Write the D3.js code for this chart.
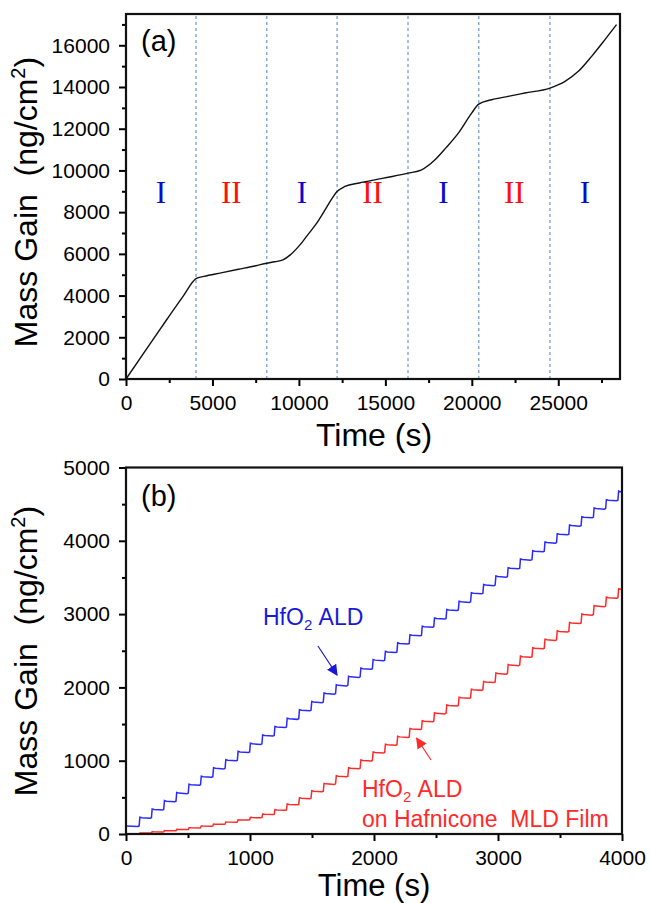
<!DOCTYPE html>
<html><head><meta charset="utf-8">
<script src="https://cdn.jsdelivr.net/npm/d3@7"></script>
<style>
body{margin:0;background:#fff}
svg{display:block}
text{font-family:Arial,"Liberation Sans",sans-serif;fill:#000}
</style>
</head><body>
<svg id="chart" width="650" height="903"></svg>
<script>
// ---------- Panel (a): mass gain during alternating growth sequences ----------
const timeA = [0, 1400, 2400, 3300, 4050, 4500, 5500, 6500, 7500, 8140, 8600, 9080, 9500,
  10060, 10500, 11030, 11510, 11900, 12210, 12660, 13500, 14400, 15400, 16310, 17100,
  17870, 18500, 19220, 19990, 20400, 21150, 22100, 23070, 24520, 25390, 26160, 26930,
  27700, 28370];
const massA = [0, 1700, 2900, 3960, 4810, 4920, 5090, 5260, 5430, 5550, 5620, 5710, 5950,
  6430, 6900, 7470, 8110, 8640, 8990, 9230, 9400, 9550, 9710, 9870, 10030,
  10510, 11080, 11790, 12750, 13180, 13390, 13550, 13710, 13950, 14270, 14750, 15470,
  16270, 16990];
const regionBounds = [4050, 8140, 12210, 16310, 20400, 24520];
const regionLabels = ["I", "II", "I", "II", "I", "II", "I"];
const xTicksA = [0, 5000, 10000, 15000, 20000, 25000];
const xMinorA = [2500, 7500, 12500, 17500, 22500, 27500];
const yTicksA = [0, 2000, 4000, 6000, 8000, 10000, 12000, 14000, 16000];
const yMinorA = [1000, 3000, 5000, 7000, 9000, 11000, 13000, 15000, 17000];

// ---------- Panel (b): per-cycle HfO2 ALD mass gain ----------
const cycleStart = [0, 106, 205, 304, 403, 502, 601, 700, 799, 898, 997, 1096, 1195, 1294,
  1393, 1492, 1591, 1690, 1789, 1888, 1987, 2086, 2185, 2284, 2383, 2482, 2581, 2680, 2779,
  2878, 2977, 3076, 3175, 3274, 3373, 3472, 3571, 3670, 3769, 3868, 3967];
const massHfO2 = [110, 222, 334, 448, 558, 672, 782, 896, 1006, 1120, 1230, 1344, 1460, 1572,
  1688, 1800, 1916, 2028, 2144, 2256, 2372, 2484, 2600, 2712, 2828, 2940, 3056, 3168, 3284,
  3396, 3512, 3626, 3744, 3858, 3976, 4090, 4208, 4322, 4440, 4554, 4670];
const massOnMLD = [0, 14, 29, 45, 62, 84, 108, 134, 162, 192, 224, 269, 329, 404, 489, 584,
  684, 789, 897, 1004, 1111, 1218, 1325, 1432, 1539, 1646, 1753, 1860, 1967, 2074, 2189,
  2304, 2419, 2534, 2649, 2764, 2879, 2994, 3109, 3224, 3339];
const xTicksB = [0, 1000, 2000, 3000, 4000];
const xMinorB = [500, 1500, 2500, 3500];
const yTicksB = [0, 1000, 2000, 3000, 4000, 5000];
const yMinorB = [500, 1500, 2500, 3500, 4500];

const svg = d3.select("#chart");
const TICK_FONT = "21px";

function frame(g, x, y, xt, xm, yt, ym) {
  const [x0, x1] = x.range(), [y0, y1] = y.range();
  // minor ticks
  g.append("g").attr("transform", `translate(0,${y0})`)
    .call(d3.axisBottom(x).tickValues(xm).tickSize(4).tickSizeOuter(0).tickFormat(""))
    .call(a => a.select(".domain").remove());
  g.append("g").attr("transform", `translate(${x0},0)`)
    .call(d3.axisLeft(y).tickValues(ym).tickSize(4).tickSizeOuter(0).tickFormat(""))
    .call(a => a.select(".domain").remove());
  // major ticks with labels
  g.append("g").attr("transform", `translate(0,${y0})`)
    .call(d3.axisBottom(x).tickValues(xt).tickSize(7).tickPadding(9).tickSizeOuter(0).tickFormat(d3.format("d")))
    .call(a => a.select(".domain").remove())
    .call(a => a.selectAll("text").style("font-size", TICK_FONT).attr("fill", "#000"));
  g.append("g").attr("transform", `translate(${x0},0)`)
    .call(d3.axisLeft(y).tickValues(yt).tickSize(7).tickPadding(9).tickSizeOuter(0).tickFormat(d3.format("d")))
    .call(a => a.select(".domain").remove())
    .call(a => a.selectAll("text").style("font-size", TICK_FONT).attr("fill", "#000"));
  g.selectAll(".tick line").attr("stroke", "#000").attr("stroke-width", 2);
  g.append("rect").attr("x", x0).attr("y", y1).attr("width", x1 - x0).attr("height", y0 - y1)
    .attr("fill", "none").attr("stroke", "#111").attr("stroke-width", 2.2);
}

function yTitle(cx, cy) {
  const t = svg.append("text")
    .attr("transform", `translate(${cx},${cy}) rotate(-90)`)
    .attr("text-anchor", "middle").style("font-size", "32px");
  t.append("tspan").text("Mass Gain\u00a0\u00a0(ng/cm");
  t.append("tspan").text("2").style("font-size", "20px").attr("dy", "-12");
  t.append("tspan").text(")").attr("dy", "12");
}

// ===== Panel (a) =====
const xA = d3.scaleLinear().domain([0, 28570]).range([126, 620]);
const yA = d3.scaleLinear().domain([0, 17500]).range([379, 14]);
const gA = svg.append("g");

gA.selectAll("line.bound").data(regionBounds).join("line").attr("class", "bound")
  .attr("x1", d => xA(d)).attr("x2", d => xA(d))
  .attr("y1", yA.range()[0]).attr("y2", yA.range()[1])
  .attr("stroke", "#7ea6d6").attr("stroke-width", 1.4).attr("stroke-dasharray", "3,3");

const regionEdges = [0, ...regionBounds, xA.domain()[1]];
gA.selectAll("text.region").data(regionLabels).join("text").attr("class", "region")
  .attr("x", (d, i) => xA((regionEdges[i] + regionEdges[i + 1]) / 2))
  .attr("y", 203).attr("text-anchor", "middle")
  .style("font-family", "'Liberation Serif','Times New Roman',serif").style("font-size", "31px")
  .style("fill", d => d === "I" ? "#0a0acc" : "#ff1010")
  .text(d => d);

gA.append("path").datum(timeA.map((t, i) => [t, massA[i]]))
  .attr("fill", "none").attr("stroke", "#111").attr("stroke-width", 1.4)
  .attr("d", d3.line().x(d => xA(d[0])).y(d => yA(d[1])).curve(d3.curveMonotoneX));

frame(gA, xA, yA, xTicksA, xMinorA, yTicksA, yMinorA);
svg.append("text").attr("x", 141).attr("y", 51).style("font-size", "29px").text("(a)");
yTitle(37, 202);
svg.append("text").attr("x", 374).attr("y", 446).attr("text-anchor", "middle")
  .style("font-size", "32px").text("Time (s)");

// ===== Panel (b) =====
const xB = d3.scaleLinear().domain([0, 4000]).range([126, 622]);
const yB = d3.scaleLinear().domain([0, 5000]).range([834, 467.5]);
const gB = svg.append("g");

// stepped trace: each cycle jumps at its start, overshoots a little, then settles
function stepPoints(values) {
  const pts = [[cycleStart[0], values[0]]];
  for (let k = 1; k < values.length; k++) {
    const t = cycleStart[k], prev = values[k - 1], cur = values[k];
    const hook = (cur - prev) * 0.07;
    pts.push([t - 10, prev - hook]);
    pts.push([t, prev]);
    pts.push([t + 6, cur + hook]);
    pts.push([t + 22, cur]);
  }
  pts.push([xB.domain()[1], values[values.length - 1]]);
  return pts;
}
const stepLine = d3.line().x(d => xB(d[0])).y(d => yB(d[1]));
gB.append("path").datum(stepPoints(massOnMLD))
  .attr("fill", "none").attr("stroke", "#ff2a2a").attr("stroke-width", 1.5).attr("d", stepLine);
gB.append("path").datum(stepPoints(massHfO2))
  .attr("fill", "none").attr("stroke", "#2a2aff").attr("stroke-width", 1.5).attr("d", stepLine);

frame(gB, xB, yB, xTicksB, xMinorB, yTicksB, yMinorB);
svg.append("text").attr("x", 141).attr("y", 506).style("font-size", "29px").text("(b)");
yTitle(37, 651);
svg.append("text").attr("x", 374).attr("y", 896).attr("text-anchor", "middle")
  .style("font-size", "31px").text("Time (s)");

// annotations
const defs = svg.append("defs");
[["arrowBlue", "#1a1ad6"], ["arrowRed", "#ff2a2a"]].forEach(([id, c]) => {
  defs.append("marker").attr("id", id).attr("viewBox", "0 0 10 10").attr("refX", 9).attr("refY", 5)
    .attr("markerWidth", 11).attr("markerHeight", 11).attr("markerUnits", "userSpaceOnUse")
    .attr("orient", "auto")
    .append("path").attr("d", "M0,0 L10,5 L0,10 Z").attr("fill", c);
});

function label(x, y, color, lines) {
  lines.forEach((ln, i) => {
    const t = svg.append("text").attr("x", x).attr("y", y + i * 30)
      .style("font-size", "23px").style("fill", color);
    if (ln.sub) {
      t.append("tspan").text("HfO");
      t.append("tspan").text("2").style("font-size", "15px").attr("dy", "5");
      t.append("tspan").text("\u00a0ALD").attr("dy", "-5");
    } else {
      t.text(ln.text);
    }
  });
}
label(263, 625, "#1a1ad6", [{ sub: true }]);
svg.append("line").attr("x1", xB(1548)).attr("y1", yB(2565)).attr("x2", xB(1702)).attr("y2", yB(2169))
  .attr("stroke", "#1a1ad6").attr("stroke-width", 1.2).attr("marker-end", "url(#arrowBlue)");

label(362, 797, "#ff2a2a", [{ sub: true }, { text: "on Hafnicone\u00a0\u00a0MLD Film" }]);
svg.append("line").attr("x1", xB(2460)).attr("y1", yB(1010)).attr("x2", xB(2344)).attr("y2", yB(1306))
  .attr("stroke", "#ff2a2a").attr("stroke-width", 1.2).attr("marker-end", "url(#arrowRed)");
</script>
</body></html>
